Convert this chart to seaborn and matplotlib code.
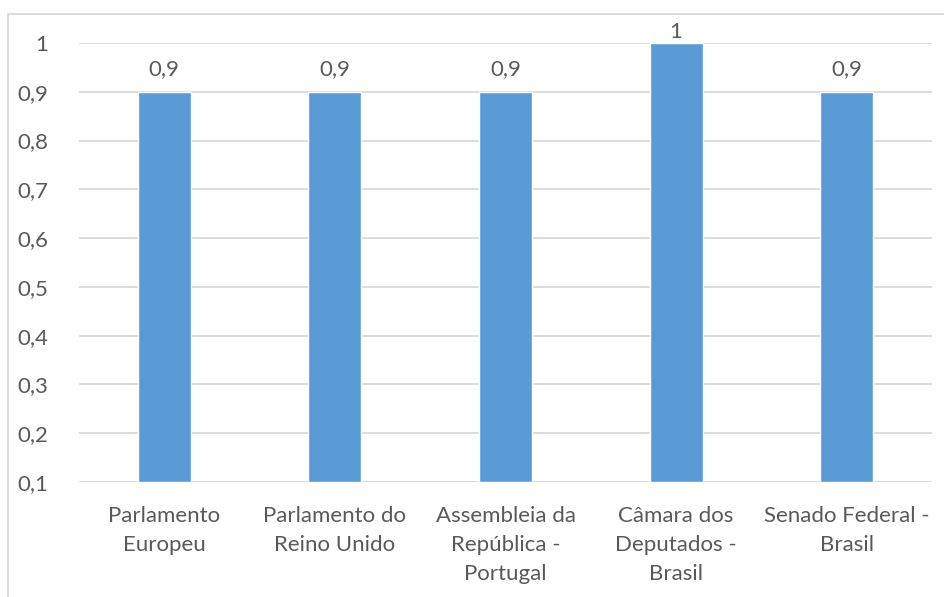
import matplotlib
matplotlib.use("Agg")
import matplotlib.pyplot as plt
from matplotlib.patches import Rectangle
from matplotlib.ticker import FuncFormatter, MultipleLocator
import seaborn as sns
import pandas as pd

categorias = [
    "Parlamento\nEuropeu",
    "Parlamento do\nReino Unido",
    "Assembleia da\nRepública -\nPortugal",
    "Câmara dos\nDeputados -\nBrasil",
    "Senado Federal -\nBrasil",
]
valores = [0.9, 0.9, 0.9, 1.0, 0.9]

BASE = 0.1
TOPO = 1.0
AZUL = "#5B9BD5"
CINZA_TEXTO = "#595959"
CINZA_GRADE = "#D9D9D9"

sns.set_theme(style="white")
plt.rcParams["font.family"] = ["Lato", "DejaVu Sans"]

df = pd.DataFrame({"categoria": categorias, "valor": valores})
# Bars rise from the axis floor (0,1), so plot the height above it
df["altura"] = df["valor"] - BASE

fig = plt.figure(figsize=(9.45, 5.97), dpi=100)
ax = fig.add_axes([79 / 945, 1 - 482 / 597, (932 - 79) / 945, (482 - 43) / 597])

sns.barplot(data=df, x="categoria", y="altura", bottom=BASE, color=AZUL,
            width=0.31, saturation=1, ax=ax, zorder=3)

ax.set_ylim(BASE, TOPO)
ax.set_xlim(-0.5, len(categorias) - 0.5)
ax.yaxis.set_major_locator(MultipleLocator(0.1))
ax.yaxis.set_major_formatter(
    FuncFormatter(lambda v, _: f"{v:.1f}".rstrip("0").rstrip(".").replace(".", ","))
)
ax.grid(axis="y", color=CINZA_GRADE, linewidth=1.3, zorder=0)
for lado in ax.spines.values():
    lado.set_visible(False)
ax.set_xlabel("")
ax.set_ylabel("")
ax.tick_params(axis="y", length=0, pad=22, labelsize=16, labelcolor=CINZA_TEXTO)
ax.tick_params(axis="x", length=0, pad=17, labelsize=16, labelcolor=CINZA_TEXTO)
for rot in ax.get_xticklabels():
    rot.set_linespacing(1.58)
    rot.set_horizontalalignment("center")

# Value labels above each bar; the top one sits just above the axis ceiling
for i, v in enumerate(valores):
    txt = f"{v:g}".replace(".", ",")
    deslocamento = 13 if v < TOPO else 1
    ax.annotate(txt, (i, v), xytext=(0, deslocamento), textcoords="offset pixels",
                ha="center", va="bottom", fontsize=16, color=CINZA_TEXTO,
                annotation_clip=False)

# Chart-area frame
fig.patches.append(Rectangle((8 / 945, -0.1), 1.1, 1 - 14 / 597 + 0.1,
                             transform=fig.transFigure, fill=False,
                             edgecolor=CINZA_GRADE, linewidth=1.3))

fig.savefig("out.png", dpi=100)
